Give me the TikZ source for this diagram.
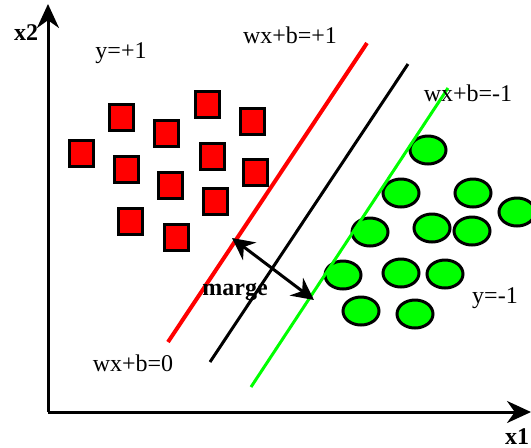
\documentclass[tikz,border=0pt]{standalone}
\usepackage{fontspec}
\setmainfont{Liberation Serif}
\usetikzlibrary{shapes.geometric, arrows.meta, positioning}

\begin{document}
\begin{tikzpicture}[
    x=0.5pt, y=-0.5pt,
    lbl/.style={font=\fontsize{12}{14}\selectfont, inner sep=0pt},
    axlbl/.style={font=\fontsize{12}{14}\selectfont\bfseries, inner sep=0pt},
    posbox/.style={rectangle, draw, line width=1.5pt, fill=red, minimum width=12pt, minimum height=13pt, inner sep=0pt},
    negdot/.style={ellipse, draw, line width=1.5pt, fill=green, minimum width=18pt, minimum height=14pt, inner sep=0pt},
    axis/.style={line width=1.5pt, -{Stealth[length=12pt, width=11pt]}},
    plane/.style={line width=1.5pt}
]
    \useasboundingbox (0,0) rectangle (531,447);

    \coordinate (O) at (48,412);
    \coordinate (ytip) at (48,4);
    \coordinate (xtip) at (531,412);
    \draw [axis] (O) -- (ytip);
    \draw [axis] (O) -- (xtip);
    \node[axlbl] (x2lbl) at (26,33) {x2};
    \node[axlbl] (x1lbl) at (517,437) {x1};

    \foreach \x/\y [count=\i] in {121/117, 166/133, 207/104, 252/121, 81/153, 126/169, 212/156, 170/185, 255/172, 215/201, 130/221, 176/237}
        \node[posbox] (sq\i) at (\x,\y) {};

    \foreach \x/\y [count=\i] in {428/150, 401/193, 473/193, 517/212, 370/232, 432/228, 472/231, 343/275, 401/273, 445/274, 361/311, 415/314}
        \node[negdot] (ci\i) at (\x,\y) {};

    \coordinate (r1) at (168,342);
    \coordinate (r2) at (367,43);
    \coordinate (b1) at (210,362);
    \coordinate (b2) at (408,64);
    \coordinate (g1) at (251,387);
    \coordinate (g2) at (448,88);
    \draw [plane, red, line width=2pt] (r1) -- (r2);
    \draw [plane, black] (b1) -- (b2);
    \draw [plane, green] (g1) -- (g2);

    \coordinate (m1) at (232,238);
    \coordinate (m2) at (314,300);
    \draw [line width=1.5pt, {Stealth[length=11pt, width=11pt]}-{Stealth[length=11pt, width=11pt]}] (m1) -- (m2);

    \node[lbl] (ypos) at (121,53) {y=+1};
    \node[lbl] (yneg) at (495,298) {y=-1};
    \node[lbl] (hpos) at (290,35) {wx+b=+1};
    \node[lbl] (hneg) at (468,93) {wx+b=-1};
    \node[lbl] (hzero) at (133,363) {wx+b=0};
    \node[axlbl] (marge) at (235,292) {marge};
\end{tikzpicture}
\end{document}
